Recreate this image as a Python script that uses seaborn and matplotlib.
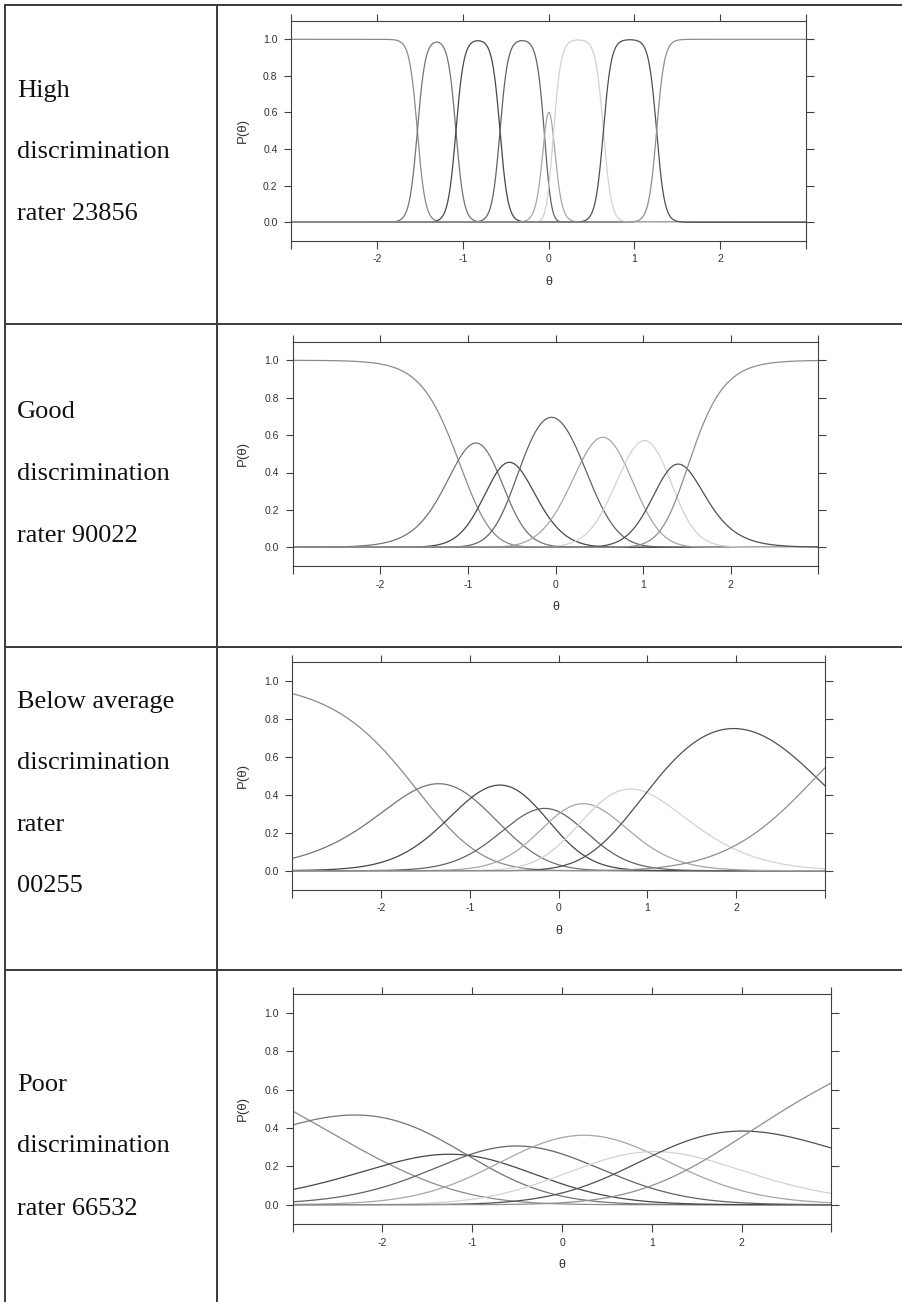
import numpy as np
import pandas as pd
import matplotlib
matplotlib.use("Agg")
import matplotlib.pyplot as plt
import seaborn as sns
from matplotlib.lines import Line2D
from matplotlib.ticker import FixedLocator, FixedFormatter

# ---------------- data ----------------
row_labels = [
    ["High", "discrimination", "rater 23856"],
    ["Good", "discrimination", "rater 90022"],
    ["Below average", "discrimination", "rater", "00255"],
    ["Poor", "discrimination", "rater 66532"],
]
categories = ["1", "2", "3", "4", "5", "6", "7", "8"]

# category-response model parameters
# (slope, and the theta where adjacent category curves cross)
slope_23856 = 21.6
steps_23856 = [-1.53, -1.08, -0.566, -0.047, 0.055, 0.64, 1.26]
slope_90022 = 4.4
steps_90022 = [-1.11, -0.665, -0.41, 0.30, 0.79, 1.27, 1.50]
slope_00255 = 1.9
steps_00255 = [-1.60, -0.98, -0.23, 0.02, 0.42, 0.99, 2.90]
slope_66532 = 0.85
steps_66532 = [-2.81, -1.05, -1.05, -0.33, 0.95, 1.10, 2.10]

x_ticks = [-3, -2, -1, 0, 1, 2, 3]
x_tick_labels = ["", "-2", "-1", "0", "1", "2", ""]
y_ticks = [0.0, 0.2, 0.4, 0.6, 0.8, 1.0]
y_tick_labels = ["0.0", "0.2", "0.4", "0.6", "0.8", "1.0"]

curve_grays = ["#8a8a8a", "#747474", "#474747", "#636363",
               "#a6a6a6", "#d2d2d2", "#505050", "#8e8e8e"]

# ---------------- layout (pixels of a 903 x 1302 canvas) ----------------
W, H = 903, 1302
# left, right, top, bottom of each plot frame
frames = [
    (291.3, 805.8, 21.0, 240.6),
    (292.8, 818.4, 341.6, 566.0),
    (292.4, 824.9, 662.0, 889.7),
    (292.7, 831.4, 993.8, 1223.9),
]
text_baselines = [
    [97, 158, 220],
    [418, 480, 542],
    [708, 769, 831, 892],
    [1091, 1152, 1215],
]
row_lines = [5, 323.5, 646.5, 970]

sns.set_style("white")
plt.rcParams["font.family"] = ["Liberation Sans", "DejaVu Sans"]

fig = plt.figure(figsize=(W / 100, H / 100), dpi=100)


def category_curves(slope, steps, theta):
    z = np.vstack([np.zeros_like(theta)] + [slope * (theta - s) for s in steps])
    z = np.cumsum(z, axis=0)
    z -= z.max(axis=0)
    e = np.exp(z)
    return e / e.sum(axis=0)


theta = np.linspace(-3, 3, 1201)
params = [(slope_23856, steps_23856), (slope_90022, steps_90022),
          (slope_00255, steps_00255), (slope_66532, steps_66532)]

for (slope, steps), (l, r, t, b) in zip(params, frames):
    ax = fig.add_axes([l / W, (H - b) / H, (r - l) / W, (b - t) / H])
    probs = category_curves(slope, steps, theta)
    df = pd.DataFrame({
        "theta": np.tile(theta, len(categories)),
        "P": probs.ravel(),
        "category": np.repeat(categories, len(theta)),
    })
    sns.lineplot(data=df, x="theta", y="P", hue="category",
                 palette=curve_grays, legend=False, estimator=None,
                 linewidth=0.9, ax=ax, sort=True)
    ax.set_xlim(-3, 3)
    ax.set_ylim(-0.1, 1.1)
    ax.xaxis.set_major_locator(FixedLocator(x_ticks))
    ax.xaxis.set_major_formatter(FixedFormatter(x_tick_labels))
    ax.yaxis.set_major_locator(FixedLocator(y_ticks))
    ax.yaxis.set_major_formatter(FixedFormatter(y_tick_labels))
    ax.tick_params(axis="both", direction="out", length=5.4, width=0.8,
                   color="#404040", labelsize=7.5, labelcolor="#333333",
                   top=True, right=True, bottom=True, left=True,
                   labeltop=False, labelright=False, pad=4.5)
    for sp in ax.spines.values():
        sp.set_visible(True)
        sp.set_color("#404040")
        sp.set_linewidth(0.8)
    ax.grid(False)
    ax.set_xlabel("θ", fontsize=9, color="#333333")
    ax.set_ylabel("P(θ)", fontsize=9.5, color="#333333")
    hpx = b - t
    wpx = r - l
    ax.xaxis.set_label_coords(0.5, -(282 - 240.6) / hpx)
    ax.xaxis.label.set_va("center")
    ax.yaxis.set_label_coords(-(l - 243) / wpx, 0.5)
    ax.yaxis.label.set_va("center")

# ---------------- table grid and left-column text ----------------
line_kw = dict(color="#3a3a3a", linewidth=1.4, transform=fig.transFigure)
for y in row_lines:
    fig.add_artist(Line2D([5 / W, 1.0], [(H - y) / H] * 2, **line_kw))
for x in (5, 217):
    fig.add_artist(Line2D([x / W] * 2, [(H - 5) / H, 0.0], **line_kw))

for lines, baselines in zip(row_labels, text_baselines):
    for txt, yb in zip(lines, baselines):
        fig.text(17 / W, (H - yb) / H, txt, fontsize=19,
                 family=["Liberation Serif", "DejaVu Serif"],
                 color="#111111", ha="left", va="baseline")

fig.savefig("out.png", dpi=100)
